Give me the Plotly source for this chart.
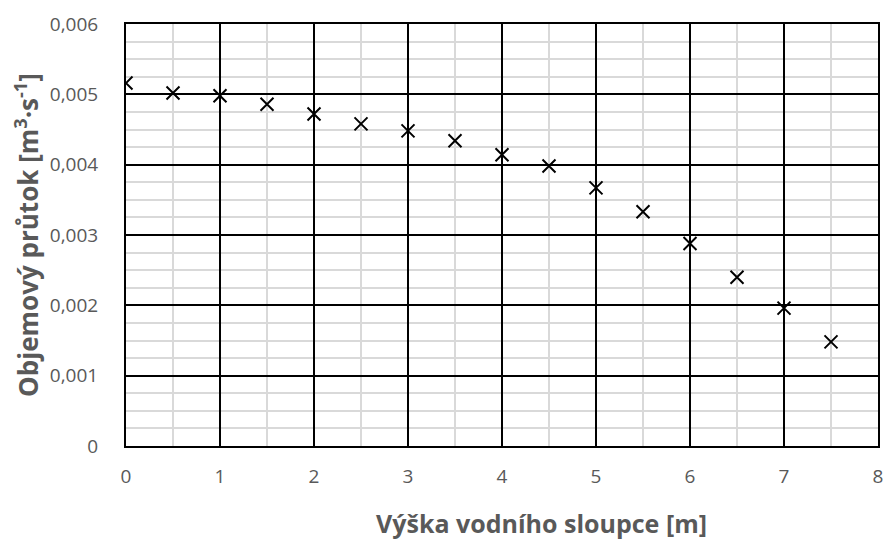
import plotly.graph_objects as go

# Water column height [m] and measured volumetric flow rate [m^3/s]
vyska = [0, 0.5, 1, 1.5, 2, 2.5, 3, 3.5, 4, 4.5, 5, 5.5, 6, 6.5, 7, 7.5]
prutok = [0.00516, 0.00502, 0.00498, 0.00486, 0.00472, 0.00458, 0.00448, 0.00434,
          0.00414, 0.00398, 0.00367, 0.00333, 0.00288, 0.00240, 0.00196, 0.00148]

x_ticks = [0, 1, 2, 3, 4, 5, 6, 7, 8]
y_ticks = [0, 0.001, 0.002, 0.003, 0.004, 0.005, 0.006]
y_tick_text = ["0", "0,001", "0,002", "0,003", "0,004", "0,005", "0,006"]

font_family = "Open Sans, Liberation Sans, sans-serif"
tick_color = "#595959"

fig = go.Figure()
fig.add_trace(go.Scatter(
    x=vyska, y=prutok, mode="markers",
    marker=dict(symbol="x-thin", size=13, line=dict(color="black", width=2), color="black"),
    showlegend=False,
))

fig.update_layout(
    width=890, height=543,
    margin=dict(l=126, r=7, t=24, b=97),
    paper_bgcolor="white", plot_bgcolor="white",
    font=dict(family=font_family, color=tick_color),
    xaxis=dict(
        range=[0, 8], tickvals=x_ticks, ticks="", ticklen=0,
        showgrid=True, gridcolor="black", gridwidth=2,
        minor=dict(dtick=0.5, showgrid=True, gridcolor="#d9d9d9", gridwidth=2),
        showline=True, linecolor="black", linewidth=2, mirror=True,
        zeroline=False, tickfont=dict(size=19, color=tick_color), ticklabelstandoff=12,
    ),
    yaxis=dict(
        range=[0, 0.006], tickvals=y_ticks, ticktext=y_tick_text, ticks="",
        showgrid=True, gridcolor="black", gridwidth=2,
        minor=dict(dtick=0.00025, showgrid=True, gridcolor="#d9d9d9", gridwidth=2),
        showline=True, linecolor="black", linewidth=2, mirror=True,
        zeroline=False, tickfont=dict(size=19, color=tick_color), ticklabelstandoff=22,
        title=dict(text="<b>Objemový průtok [m<sup>3</sup>·s<sup>-1</sup>]</b>",
                   font=dict(size=26, color=tick_color), standoff=4),
    ),
    annotations=[dict(
        text="<b>Výška vodního sloupce [m]</b>", xref="paper", yref="paper",
        x=0.553, y=-0.183, xanchor="center", yanchor="middle", showarrow=False,
        font=dict(size=25, color=tick_color),
    )],
)

fig.write_html("out.html")
